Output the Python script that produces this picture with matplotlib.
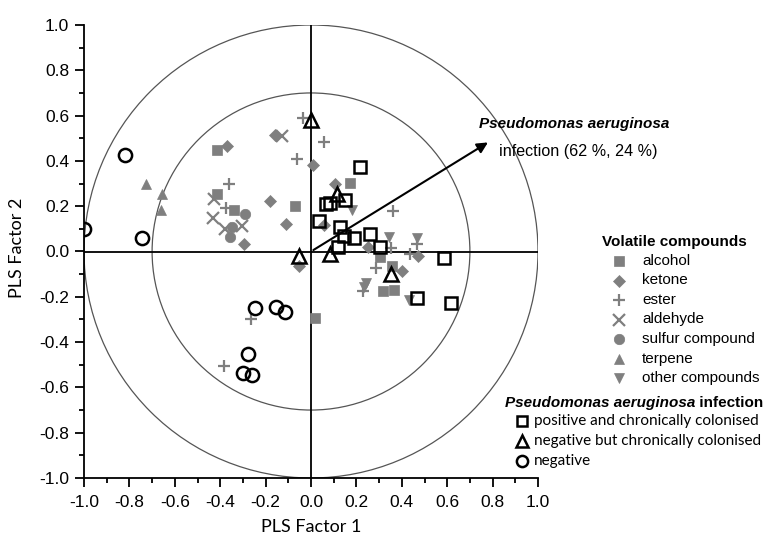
import numpy as np
import matplotlib
matplotlib.use("Agg")
import matplotlib.pyplot as plt
from matplotlib.lines import Line2D
from matplotlib.patches import Circle
from matplotlib.ticker import MultipleLocator, FormatStrFormatter

# volatile compounds (x = PLS factor 1, y = PLS factor 2)
alcohol_x = [-0.415, -0.412, -0.338, -0.070, 0.171, 0.303, 0.357, 0.318, 0.365, 0.019]
alcohol_y = [0.447, 0.256, 0.185, 0.203, 0.304, -0.024, -0.063, -0.176, -0.171, -0.294]

ketone_x = [-0.371, -0.157, 0.010, -0.182, -0.108, -0.297, 0.107, 0.250, 0.470, 0.399, -0.052, 0.056]
ketone_y = [0.464, 0.513, 0.383, 0.225, 0.122, 0.035, 0.298, 0.022, -0.020, -0.085, -0.066, 0.118]

ester_x = [-0.363, -0.374, -0.062, -0.035, 0.056, 0.362, 0.353, 0.468, 0.438, 0.286, 0.229, -0.265, -0.382]
ester_y = [0.300, 0.191, 0.410, 0.590, 0.485, 0.179, 0.017, 0.032, -0.009, -0.074, -0.176, -0.300, -0.504]

aldehyde_x = [-0.426, -0.432, -0.378, -0.304, -0.128]
aldehyde_y = [0.231, 0.147, 0.099, 0.113, 0.510]

sulfur_x = [-0.290, -0.349, -0.356]
sulfur_y = [0.165, 0.106, 0.065]

terpene_x = [-0.728, -0.657, -0.660]
terpene_y = [0.300, 0.253, 0.182]

other_x = [0.181, 0.343, 0.468, 0.244, 0.232, 0.430]
other_y = [0.182, 0.065, 0.059, -0.140, -0.155, -0.215]

# samples by infection status
positive_x = [0.218, 0.068, 0.082, 0.151, 0.034, 0.126, 0.147, 0.188, 0.259, 0.303, 0.118, 0.588, 0.465, 0.618]
positive_y = [0.371, 0.209, 0.215, 0.226, 0.135, 0.109, 0.069, 0.059, 0.076, 0.018, 0.018, -0.029, -0.207, -0.229]

neg_colonised_x = [0.000, 0.115, 0.082, -0.054, 0.353]
neg_colonised_y = [0.580, 0.256, -0.009, -0.022, -0.100]

negative_x = [-0.819, -1.000, -0.746, -0.246, -0.153, -0.113, -0.279, -0.300, -0.260]
negative_y = [0.426, 0.100, 0.059, -0.250, -0.247, -0.265, -0.453, -0.538, -0.546]

arrow_end = (0.79, 0.488)

GRAY = "#7f7f7f"
ARIAL = "Liberation Sans"
CALIBRI = "Lato"

fig = plt.figure(figsize=(7.71, 5.45), dpi=100)
ax = fig.add_axes([84 / 771, 67 / 545, 454 / 771, 453 / 545])

for r in [0.7, 1.0]:
    ax.add_patch(Circle((0, 0), r, fill=False, edgecolor="#555555", lw=0.9, zorder=1))
ax.plot([-1, 1], [0, 0], color="black", lw=1.3, zorder=2)
ax.plot([0, 0], [-1, 1], color="black", lw=1.3, zorder=2)

compounds = [
    ("alcohol", alcohol_x, alcohol_y, "s", 6.5),
    ("ketone", ketone_x, ketone_y, "D", 6.5),
    ("ester", ester_x, ester_y, "+", 8),
    ("aldehyde", aldehyde_x, aldehyde_y, "x", 8),
    ("sulfur compound", sulfur_x, sulfur_y, "o", 7.5),
    ("terpene", terpene_x, terpene_y, "^", 7.5),
    ("other compounds", other_x, other_y, "v", 7.5),
]
for name, xs, ys, m, ms in compounds:
    ax.plot(xs, ys, linestyle="none", marker=m, markersize=ms, color=GRAY,
            markeredgewidth=1.6 if m in "+x" else 0.5, zorder=3)

samples = [
    ("positive and chronically colonised", positive_x, positive_y, "s", 9),
    ("negative but chronically colonised", neg_colonised_x, neg_colonised_y, "^", 10),
    ("negative", negative_x, negative_y, "o", 9.5),
]
for name, xs, ys, m, ms in samples:
    ax.plot(xs, ys, linestyle="none", marker=m, markersize=ms, markerfacecolor="none",
            markeredgecolor="black", markeredgewidth=1.8, zorder=4)

ax.annotate("", xy=arrow_end, xytext=(0, 0),
            arrowprops=dict(arrowstyle="-|>", color="black", lw=1.5, mutation_scale=16), zorder=5)
ax.text(0.738, 0.563, "Pseudomonas aeruginosa", fontstyle="italic", fontweight="bold",
        family=ARIAL, fontsize=11, va="center", ha="left")
ax.text(0.826, 0.44, "infection (62 %, 24 %)", family=ARIAL, fontsize=11.6, va="center", ha="left")

ax.set_xlim(-1, 1)
ax.set_ylim(-1, 1)
ax.spines["top"].set_visible(False)
ax.spines["right"].set_visible(False)
for s in ["left", "bottom"]:
    ax.spines[s].set_linewidth(1.3)
ax.xaxis.set_major_locator(MultipleLocator(0.2))
ax.xaxis.set_minor_locator(MultipleLocator(0.1))
ax.yaxis.set_major_locator(MultipleLocator(0.2))
ax.yaxis.set_minor_locator(MultipleLocator(0.1))
ax.xaxis.set_major_formatter(FormatStrFormatter("%.1f"))
ax.yaxis.set_major_formatter(FormatStrFormatter("%.1f"))
ax.tick_params(which="major", direction="out", length=6.5, width=1.3, labelsize=12.5)
ax.tick_params(which="minor", direction="out", length=3.6, width=1.3)
ax.tick_params(axis="x", which="major", pad=5.8)
ax.tick_params(axis="y", which="major", pad=4.3)
for lab in ax.get_xticklabels() + ax.get_yticklabels():
    lab.set_family(ARIAL)

fig.text(311 / 771, 1 - 527 / 545, "PLS Factor 1", family=CALIBRI, fontsize=13, ha="center", va="center")
fig.text(17 / 771, 1 - 248 / 545, "PLS Factor 2", family=CALIBRI, fontsize=13, ha="center",
         va="center", rotation=90)

# legend: volatile compounds
fig.text(602 / 771, 1 - 242 / 545, "Volatile compounds", family=ARIAL, fontweight="bold",
         fontsize=11, ha="left", va="center")
for i, (name, xs, ys, m, ms) in enumerate(compounds):
    py = 1 - (261 + i * 19.5) / 545
    fig.add_artist(Line2D([619 / 771], [py], transform=fig.transFigure, linestyle="none",
                          marker=m, markersize=ms, color=GRAY,
                          markeredgewidth=1.6 if m in "+x" else 0.5))
    fig.text(642 / 771, py, name, family=ARIAL, fontsize=11, ha="left", va="center")

# legend: infection status
t1 = fig.text(505 / 771, 1 - 403 / 545, "Pseudomonas aeruginosa", family=ARIAL, fontweight="bold",
              fontstyle="italic", fontsize=11, ha="left", va="center")
ax.annotate(" infection", xy=(1, 0.5), xycoords=t1, family=ARIAL, fontweight="bold",
            fontsize=11, ha="left", va="center", annotation_clip=False)
for i, (name, xs, ys, m, ms) in enumerate(samples):
    py = 1 - (421 + i * 20) / 545
    fig.add_artist(Line2D([522 / 771], [py], transform=fig.transFigure, linestyle="none",
                          marker=m, markersize=ms * 0.85, markerfacecolor="none",
                          markeredgecolor="black", markeredgewidth=1.8))
    fig.text(534 / 771, py, name, family=CALIBRI, fontsize=11, ha="left", va="center")

fig.savefig("out.png", dpi=100)
